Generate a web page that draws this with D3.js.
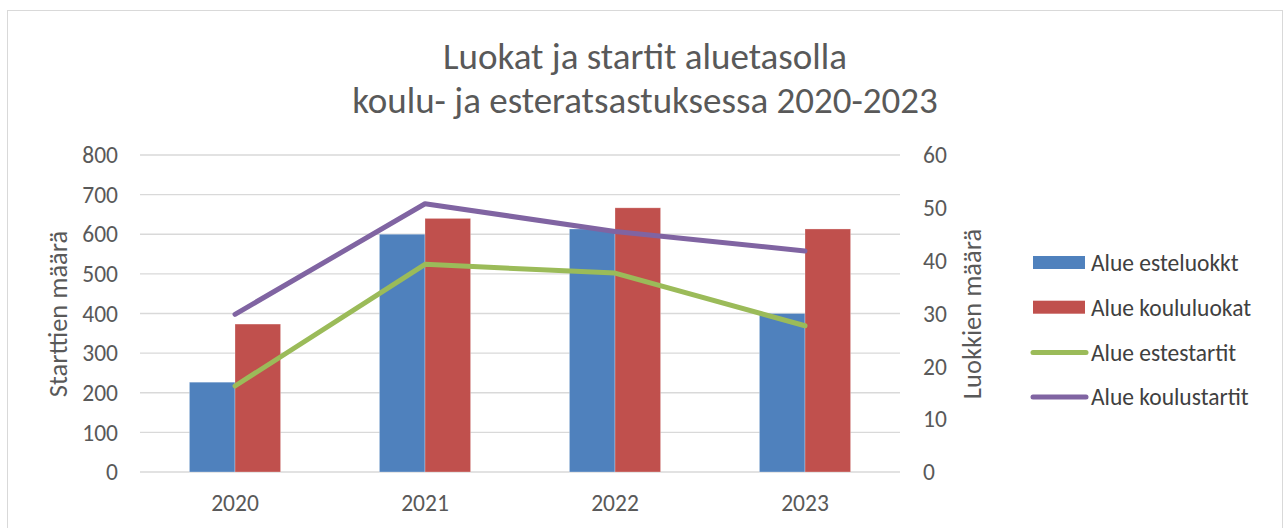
<!DOCTYPE html>
<meta charset="utf-8">
<style>
body { margin: 0; background: #fff; }
svg { font-family: Carlito, Calibri, "Open Sans", sans-serif; }
.grid line { stroke: #d9d9d9; stroke-width: 1.3px; }
.tick-label { fill: #595959; font-size: 23.5px; }
.axis-title { fill: #595959; font-size: 26.5px; }
.legend text { fill: #404040; font-size: 23.5px; }
</style>
<svg width="1288" height="528"></svg>
<script src="https://d3js.org/d3.v7.min.js"></script>
<script>

var years = ["2020", "2021", "2022", "2023"];
var esteluokat = [17, 45, 46, 30];
var koululuokat = [28, 48, 50, 46];
var estestartit = [217, 524, 502, 369];
var koulustartit = [398, 677, 607, 558];
var startTicks = [0, 100, 200, 300, 400, 500, 600, 700, 800];
var luokkaTicks = [0, 10, 20, 30, 40, 50, 60];

var barSeries = [
  {name: "Alue esteluokkt", values: esteluokat, color: "#4f81bd"},
  {name: "Alue koululuokat", values: koululuokat, color: "#c0504d"}
];
var lineSeries = [
  {name: "Alue estestartit", values: estestartit, color: "#9bbb59"},
  {name: "Alue koulustartit", values: koulustartit, color: "#8064a2"}
];

var svg = d3.select("svg");

// chart border
svg.append("rect")
    .attr("x", 7.5).attr("y", 10.5)
    .attr("width", 1275).attr("height", 530)
    .attr("fill", "none").attr("stroke", "#d9d9d9");

var plotLeft = 140, plotRight = 900, plotTop = 155, plotBottom = 472;

var x = d3.scaleBand().domain(years).range([plotLeft, plotRight])
    .paddingInner(0.52).paddingOuter(0.26);
var x1 = d3.scaleBand().domain(barSeries.map(function(d) { return d.name; }))
    .range([0, x.bandwidth()]);
var yStarts = d3.scaleLinear().domain([0, 800]).range([plotBottom, plotTop]);
var yLuokat = d3.scaleLinear().domain([0, 60]).range([plotBottom, plotTop]);

// title
svg.append("text")
    .attr("x", 645).attr("y", 69)
    .attr("text-anchor", "middle")
    .attr("fill", "#595959").style("font-size", "37px")
    .text("Luokat ja startit aluetasolla");
svg.append("text")
    .attr("x", 645).attr("y", 113)
    .attr("text-anchor", "middle")
    .attr("fill", "#595959").style("font-size", "37px")
    .text("koulu- ja esteratsastuksessa 2020-2023");

// gridlines
svg.append("g").attr("class", "grid")
  .selectAll("line")
  .data(startTicks)
  .enter().append("line")
    .attr("x1", plotLeft).attr("x2", plotRight)
    .attr("y1", function(d) { return yStarts(d); })
    .attr("y2", function(d) { return yStarts(d); });

// left axis labels
svg.append("g")
  .selectAll("text")
  .data(startTicks)
  .enter().append("text")
    .attr("class", "tick-label")
    .attr("x", 118)
    .attr("y", function(d) { return yStarts(d); })
    .attr("dy", "0.35em")
    .attr("text-anchor", "end")
    .text(function(d) { return d; });

// right axis labels
svg.append("g")
  .selectAll("text")
  .data(luokkaTicks)
  .enter().append("text")
    .attr("class", "tick-label")
    .attr("x", 923)
    .attr("y", function(d) { return yLuokat(d); })
    .attr("dy", "0.35em")
    .text(function(d) { return d; });

// x labels
svg.append("g")
  .selectAll("text")
  .data(years)
  .enter().append("text")
    .attr("class", "tick-label")
    .attr("x", function(d) { return x(d) + x.bandwidth() / 2; })
    .attr("y", 503)
    .attr("dy", "0.35em")
    .attr("text-anchor", "middle")
    .text(function(d) { return d; });

// axis titles
svg.append("text")
    .attr("class", "axis-title")
    .attr("transform", "translate(58,314) rotate(-90)")
    .attr("dy", "0.35em")
    .attr("text-anchor", "middle")
    .text("Starttien määrä");
svg.append("text")
    .attr("class", "axis-title")
    .attr("transform", "translate(972,314) rotate(-90)")
    .attr("dy", "0.35em")
    .attr("text-anchor", "middle")
    .text("Luokkien määrä");

// bars
svg.append("g")
  .selectAll("g")
  .data(barSeries)
  .enter().append("g")
    .attr("fill", function(d) { return d.color; })
  .selectAll("rect")
  .data(function(s) { return s.values.map(function(v, i) { return {name: s.name, year: years[i], value: v}; }); })
  .enter().append("rect")
    .attr("x", function(d) { return x(d.year) + x1(d.name); })
    .attr("y", function(d) { return yLuokat(d.value); })
    .attr("width", x1.bandwidth())
    .attr("height", function(d) { return yLuokat(0) - yLuokat(d.value); })
    .attr("stroke", "#ffffff").attr("stroke-opacity", 0.35).attr("stroke-width", 0.8);

// lines
var line = d3.line()
    .x(function(d, i) { return x(years[i]) + x.bandwidth() / 2; })
    .y(function(d) { return yStarts(d); });

svg.append("g")
  .selectAll("path")
  .data(lineSeries)
  .enter().append("path")
    .attr("d", function(d) { return line(d.values); })
    .attr("fill", "none")
    .attr("stroke", function(d) { return d.color; })
    .attr("stroke-width", 5)
    .attr("stroke-linecap", "round")
    .attr("stroke-linejoin", "round");

// legend
var legend = svg.append("g").attr("class", "legend");
var items = barSeries.map(function(d) { return {name: d.name, color: d.color, type: "bar"}; })
    .concat(lineSeries.map(function(d) { return {name: d.name, color: d.color, type: "line"}; }));

var li = legend.selectAll("g")
  .data(items)
  .enter().append("g")
    .attr("transform", function(d, i) { return "translate(0," + (263 + i * 44.7) + ")"; });

li.filter(function(d) { return d.type === "bar"; })
  .append("rect")
    .attr("x", 1033).attr("y", -7)
    .attr("width", 52).attr("height", 13)
    .attr("fill", function(d) { return d.color; });

li.filter(function(d) { return d.type === "line"; })
  .append("line")
    .attr("x1", 1033).attr("x2", 1086)
    .attr("stroke", function(d) { return d.color; })
    .attr("stroke-width", 5)
    .attr("stroke-linecap", "round");

li.append("text")
    .attr("x", 1091)
    .attr("dy", "0.35em")
    .text(function(d) { return d.name; });

</script>
